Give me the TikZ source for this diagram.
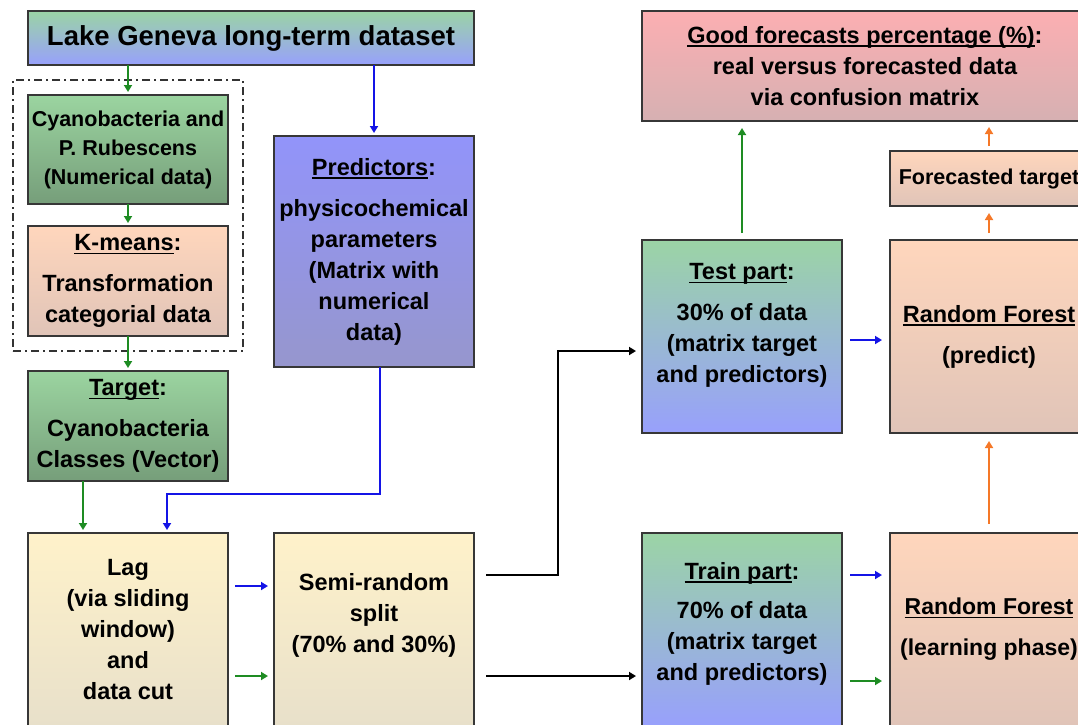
\documentclass[tikz,border=0pt]{standalone}
\usepackage{fontspec}
\setmainfont{Liberation Sans}
\usepackage{tikz}
\usetikzlibrary{positioning,arrows.meta,calc,fit}
\definecolor{boxln}{RGB}{55,55,55}
\definecolor{grntop}{RGB}{155,212,160}
\definecolor{grnbot}{RGB}{118,158,122}
\definecolor{pchtop}{RGB}{255,214,188}
\definecolor{pchbot}{RGB}{224,196,184}
\definecolor{blutop}{RGB}{146,148,250}
\definecolor{blubot}{RGB}{150,150,205}
\definecolor{ylwtop}{RGB}{255,242,202}
\definecolor{ylwbot}{RGB}{232,224,202}
\definecolor{redtop}{RGB}{252,175,178}
\definecolor{redbot}{RGB}{214,176,178}
\definecolor{mixtop}{RGB}{155,212,165}
\definecolor{mixbot}{RGB}{152,160,252}
\definecolor{argreen}{RGB}{30,140,35}
\definecolor{arblue}{RGB}{20,20,230}
\definecolor{arorange}{RGB}{245,120,40}
\newcommand{\hd}[1]{\setbox0\hbox{#1}\rlap{\rule[-3.5pt]{\wd0}{1.6pt}}\box0}
\tikzset{
  blk/.style={draw=boxln,line width=1.4pt,align=center,inner sep=1pt,outer sep=0pt,
    font=\fontsize{23.5}{31}\selectfont\bfseries,minimum width=200pt},
  grnbox/.style={blk,top color=grntop,bottom color=grnbot},
  pchbox/.style={blk,top color=pchtop,bottom color=pchbot},
  blubox/.style={blk,top color=blutop,bottom color=blubot},
  ylwbox/.style={blk,top color=ylwtop,bottom color=ylwbot},
  mixbox/.style={blk,top color=mixtop,bottom color=mixbot},
  redbox/.style={blk,top color=redtop,bottom color=redbot},
  txt/.style={align=center,font=\fontsize{23.5}{31}\selectfont\bfseries},
  ar/.style={-{Triangle[length=7pt,width=8pt]},line width=2pt},
  gar/.style={ar,argreen},
  bar/.style={ar,arblue},
  oar/.style={ar,arorange},
  kar/.style={ar,black},
}

\begin{document}
\begin{tikzpicture}[x=1pt,y=-1pt,
  dashbox/.style={draw=black!80,line width=1.3pt,dash pattern=on 8pt off 4pt on 2pt off 4pt,inner sep=15pt}]
  \useasboundingbox (0,0) rectangle (1078,724);
  \clip (0,0) rectangle (1078,724);
  % left column
  \node[mixbox,minimum width=446pt,minimum height=54pt,font=\fontsize{27.5}{33}\selectfont\bfseries] (title) at (251,38) {Lake Geneva long-term dataset};
  \node[grnbox,minimum height=109pt,font=\fontsize{21.5}{29}\selectfont\bfseries] (cyano) at (128,149.5) {Cyanobacteria and\\P. Rubescens\\(Numerical data)};
  \node[pchbox,minimum height=110pt,below=22pt of cyano] (kmeans) {\hd{K-means}:\\[10pt]Transformation\\categorial data};
  \node[grnbox,minimum height=110pt,below=35pt of kmeans] (target) {\hd{Target}:\\[10pt]Cyanobacteria\\Classes (Vector)};
  \node[ylwbox,minimum height=193pt,below=52pt of target] (lag) {Lag\\(via sliding\\window)\\and\\data cut};
  \node[dashbox,fit=(cyano)(kmeans)] (grp) {};
  % middle column
  \node[blubox,minimum height=231pt] (pred) at (374,251.5) {\hd{Predictors}:\\[10pt]physicochemical\\parameters\\(Matrix with\\numerical\\data)};
  \node[ylwbox,minimum height=193pt,right=46pt of lag] (semi) {};
  \node[txt] (semitxt) at ([yshift=14pt]semi.center) {Semi-random\\split\\(70\% and 30\%)};
  % split parts
  \node[mixbox,minimum height=193pt] (test) at (742,336.5) {};
  \node[txt] (testtxt) at ([yshift=11pt]test.center) {\hd{Test part}:\\[10pt]30\% of data\\(matrix target\\and predictors)};
  \node[mixbox,minimum height=193pt,below=100pt of test] (train) {};
  \node[txt] (traintxt) at ([yshift=6pt]train.center) {\hd{Train part}:\\[8pt]70\% of data\\(matrix target\\and predictors)};
  % random forest and results
  \node[pchbox,minimum width=198pt,minimum height=193pt,right=48pt of test] (rfpred) {\hd{Random Forest}\\[10pt](predict)};
  \node[pchbox,minimum width=198pt,minimum height=193pt,right=48pt of train,font=\fontsize{23}{31}\selectfont\bfseries] (rflearn) {\hd{Random Forest}\\[10pt](learning phase)};
  \node[pchbox,minimum width=198pt,minimum height=55pt,font=\fontsize{21.5}{29}\selectfont\bfseries] (fcast) at (989,178.5) {Forecasted target};
  \node[redbox,minimum width=446pt,minimum height=110pt] (good) at (865,66) {\hd{Good forecasts percentage (\%)}:\\real versus forecasted data\\via confusion matrix};
  % connectors
  \draw[gar,shorten >=3pt] (title.south -| grp.north) -- (cyano.north -| grp.north);
  \draw[bar,shorten >=3pt] (title.south -| pred.north) -- (pred.north);
  \draw[gar,shorten >=3pt] (cyano) -- (kmeans);
  \draw[gar,shorten >=3pt] (kmeans) -- (target);
  \draw[gar,shorten >=3pt] ([xshift=-45pt]target.south) -- ([xshift=-45pt]lag.north);
  \coordinate (bend) at ([xshift=6pt,yshift=-127pt]pred.south);
  \draw[bar,shorten >=3pt] ([xshift=6pt]pred.south) -- (bend) -| ([xshift=39pt]lag.north);
  \draw[bar,shorten <=7pt,shorten >=6pt] ([yshift=43.5pt]lag.east) -- ([yshift=43.5pt]semi.west);
  \draw[gar,shorten <=7pt,shorten >=6pt] ([yshift=-46.5pt]lag.east) -- ([yshift=-46.5pt]semi.west);
  \draw[kar,shorten <=12pt,shorten >=6pt] ([yshift=54.5pt]semi.east) -- ++(84,0) |- ([yshift=-14.5pt]test.west);
  \draw[kar,shorten <=12pt,shorten >=6pt] ([yshift=-46.5pt]semi.east) -- ([yshift=-46.5pt]train.west);
  \draw[bar,shorten <=8pt,shorten >=8pt] ([yshift=-3.5pt]test.east) -- ([yshift=-3.5pt]rfpred.west);
  \draw[bar,shorten <=8pt,shorten >=8pt] ([yshift=54.5pt]train.east) -- ([yshift=54.5pt]rflearn.west);
  \draw[gar,shorten <=8pt,shorten >=8pt] ([yshift=-51.5pt]train.east) -- ([yshift=-51.5pt]rflearn.west);
  \draw[gar,shorten <=7pt,shorten >=7pt] (test.north) -- (test.north |- good.south);
  \draw[oar,shorten <=7pt,shorten >=7pt] (rfpred) -- (fcast);
  \draw[oar,shorten <=5pt,shorten >=6pt] (fcast.north) -- (fcast.north |- good.south);
  \draw[oar,shorten <=9pt,shorten >=8pt] (rflearn) -- (rfpred);
\end{tikzpicture}
\end{document}
